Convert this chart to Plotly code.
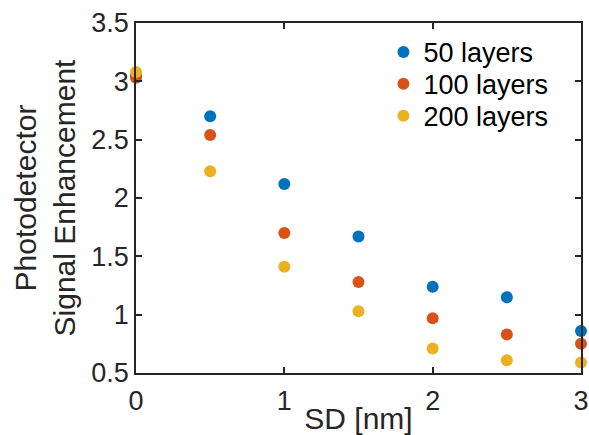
import plotly.graph_objects as go

sd = [0, 0.5, 1, 1.5, 2, 2.5, 3]
layers50 = [3.05, 2.70, 2.12, 1.67, 1.24, 1.15, 0.86]
layers100 = [3.03, 2.54, 1.70, 1.28, 0.97, 0.83, 0.75]
layers200 = [3.08, 2.23, 1.41, 1.03, 0.71, 0.61, 0.59]
names = ["50 layers", "100 layers", "200 layers"]
colors = ["#0072BD", "#D95319", "#EDB120"]
x_ticks = [0, 1, 2, 3]
y_ticks = [0.5, 1, 1.5, 2, 2.5, 3, 3.5]
y_ticktext = ["0.5", "1", "1.5", "2", "2.5", "3", "3.5"]

font = "Liberation Sans, Arial, Helvetica, sans-serif"
axc = "#262626"
tick_size = 27
label_size = 30
legend_size = 27

legend_keys = ["legend", "legend2", "legend3"]
legend_rows = [0.916, 0.825, 0.734]

fig = go.Figure()
for name, vals, c, lk in zip(names, [layers50, layers100, layers200], colors, legend_keys):
    fig.add_trace(go.Scatter(x=sd, y=vals, mode="markers", name=name, legend=lk,
                             marker=dict(color=c, size=12, line=dict(width=0)),
                             cliponaxis=False))

axis_common = dict(showline=True, linecolor=axc, linewidth=1.5, mirror="ticks",
                   ticks="inside", ticklen=6, tickwidth=1.5, tickcolor=axc,
                   showgrid=False, zeroline=False, automargin=False,
                   tickfont=dict(family=font, size=tick_size, color=axc))

legends = {}
for lk, yy in zip(legend_keys, legend_rows):
    legends[lk] = dict(x=0.556, y=yy, xanchor="left", yanchor="middle",
                       bgcolor="rgba(0,0,0,0)", borderwidth=0,
                       font=dict(family=font, size=legend_size, color="black"),
                       itemwidth=30)

fig.update_layout(
    width=589, height=435,
    margin=dict(l=136, r=8, t=23, b=62),
    paper_bgcolor="white", plot_bgcolor="white",
    font=dict(family=font, size=tick_size, color=axc),
    xaxis=dict(range=[0, 3], tickvals=x_ticks, ticktext=[str(v) for v in x_ticks],
               ticklabelstandoff=3,
               title=dict(text="SD [nm]", standoff=1, font=dict(family=font, size=label_size, color=axc)),
               **axis_common),
    yaxis=dict(range=[0.5, 3.5], tickvals=y_ticks, ticktext=y_ticktext,
               title=dict(text="Photodetector<br>Signal Enhancement", standoff=7,
                          font=dict(family=font, size=label_size, color=axc)),
               **axis_common),
    showlegend=True,
    **legends,
)

fig.write_html("out.html")
